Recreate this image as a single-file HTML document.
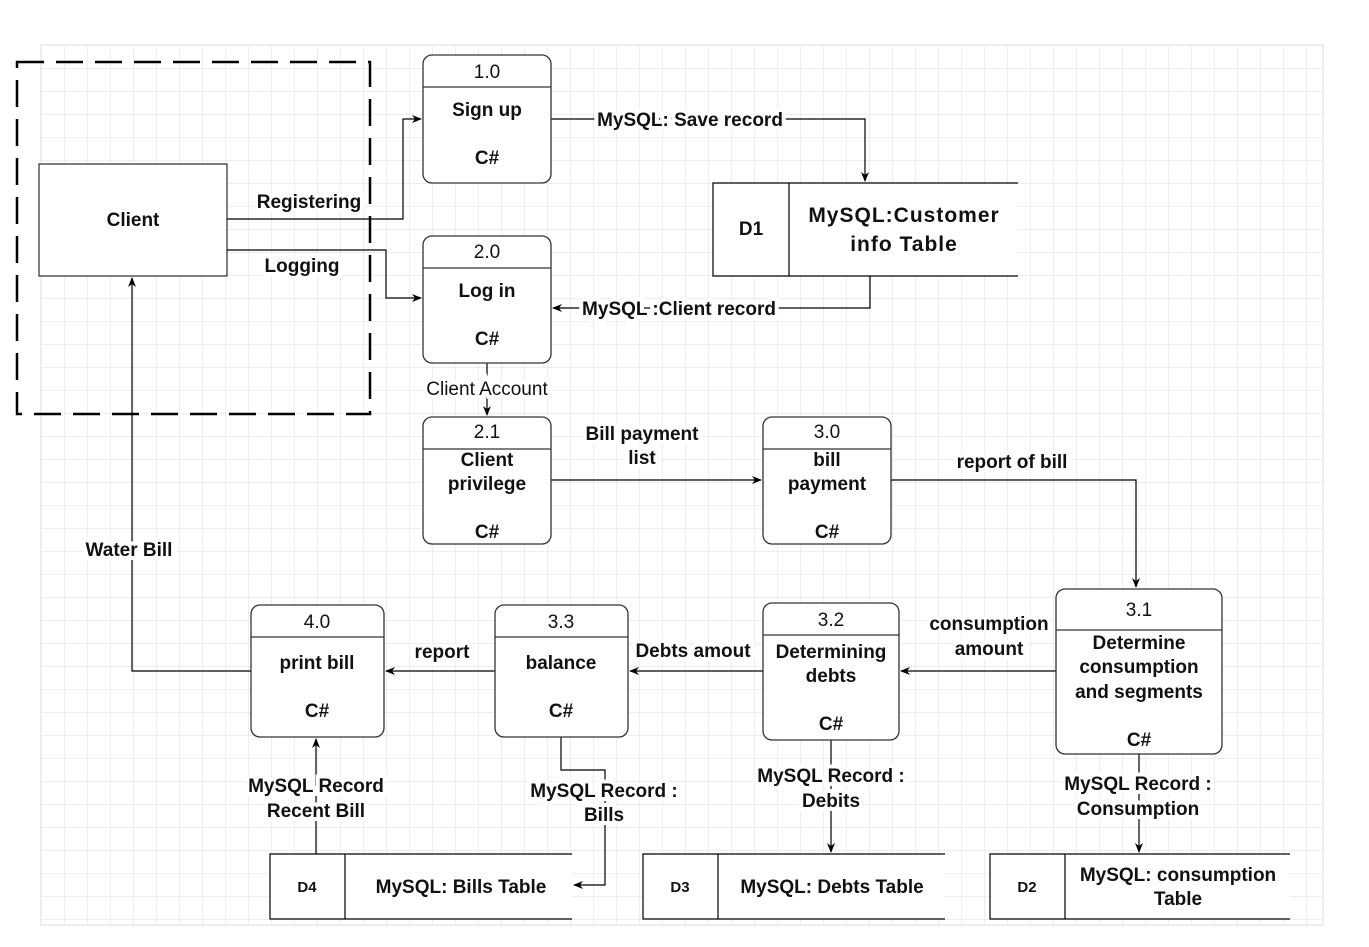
<!DOCTYPE html>
<html><head><meta charset="utf-8"><style>
body{margin:0;background:#fff}
text{font-family:"Liberation Sans",Arial,sans-serif;font-size:19px;fill:#111}
.b{font-weight:bold}
</style></head><body>
<svg width="1369" height="942" viewBox="0 0 1369 942" xmlns="http://www.w3.org/2000/svg">
<defs>
<pattern id="g" x="41" y="45" width="23" height="23" patternUnits="userSpaceOnUse">
<path d="M0 0H23M0 0V23" stroke="#dcdcdc" stroke-width="1" fill="none"/>
</pattern>
<marker id="a" markerWidth="10" markerHeight="10" refX="9" refY="5" orient="auto" markerUnits="userSpaceOnUse">
<path d="M0 1L10 5L0 9L3 5Z" fill="#000"/>
</marker>
</defs>
<rect x="41" y="45" width="1282" height="880" fill="url(#g)" stroke="#dcdcdc"/>
<rect x="17" y="62" width="353" height="352" fill="none" stroke="#000" stroke-width="2.5" stroke-dasharray="27,12"/>
<rect x="39" y="164" width="188" height="112" fill="#fff" stroke="#000"/>
<text x="133" y="226" class="b" text-anchor="middle">Client</text>

<g fill="none" stroke="#000" stroke-width="1.2">
<polyline points="227,219 403,219 403,119 421,119" marker-end="url(#a)"/>
<polyline points="227,250 386,250 386,298 421,298" marker-end="url(#a)"/>
<polyline points="551,119 865,119 865,181" marker-end="url(#a)"/>
<polyline points="870,276 870,308 553,308" marker-end="url(#a)"/>
<polyline points="487,363 487,415" marker-end="url(#a)"/>
<polyline points="551,480 761,480" marker-end="url(#a)"/>
<polyline points="891,480 1136,480 1136,587" marker-end="url(#a)"/>
<polyline points="1056,671 901,671" marker-end="url(#a)"/>
<polyline points="763,671 630,671" marker-end="url(#a)"/>
<polyline points="495,671 386,671" marker-end="url(#a)"/>
<polyline points="251,671 132,671 132,278" marker-end="url(#a)"/>
<polyline points="316,854 316,739" marker-end="url(#a)"/>
<polyline points="561,737 561,770 605,770 605,885 574,885" marker-end="url(#a)"/>
<polyline points="831,740 831,852" marker-end="url(#a)"/>
<polyline points="1139,754 1139,852" marker-end="url(#a)"/>
</g>

<g fill="#fff" stroke="#333" stroke-width="1.3">
<rect x="423" y="55" width="128" height="128" rx="9"/>
<rect x="423" y="236" width="128" height="127" rx="9"/>
<rect x="423" y="417" width="128" height="127" rx="9"/>
<rect x="763" y="417" width="128" height="127" rx="9"/>
<rect x="1056" y="589" width="166" height="165" rx="9"/>
<rect x="763" y="603" width="136" height="137" rx="9"/>
<rect x="495" y="605" width="133" height="132" rx="9"/>
<rect x="251" y="605" width="133" height="132" rx="9"/>
</g>
<g stroke="#333" stroke-width="1.3">
<line x1="423" y1="87" x2="551" y2="87"/>
<line x1="423" y1="268" x2="551" y2="268"/>
<line x1="423" y1="449" x2="551" y2="449"/>
<line x1="763" y1="449" x2="891" y2="449"/>
<line x1="1056" y1="630" x2="1222" y2="630"/>
<line x1="763" y1="635" x2="899" y2="635"/>
<line x1="495" y1="637" x2="628" y2="637"/>
<line x1="251" y1="637" x2="384" y2="637"/>
</g>

<g text-anchor="middle">
<text x="487" y="78">1.0</text><text x="487" y="116" class="b">Sign up</text><text x="487" y="164" class="b">C#</text>
<text x="487" y="258">2.0</text><text x="487" y="297" class="b">Log in</text><text x="487" y="345" class="b">C#</text>
<text x="487" y="438">2.1</text><text x="487" y="466" class="b">Client</text><text x="487" y="490" class="b">privilege</text><text x="487" y="538" class="b">C#</text>
<text x="827" y="438">3.0</text><text x="827" y="466" class="b">bill</text><text x="827" y="490" class="b">payment</text><text x="827" y="538" class="b">C#</text>
<text x="1139" y="616">3.1</text><text x="1139" y="649" class="b">Determine</text><text x="1139" y="673" class="b">consumption</text><text x="1139" y="698" class="b">and segments</text><text x="1139" y="746" class="b">C#</text>
<text x="831" y="626">3.2</text><text x="831" y="658" class="b">Determining</text><text x="831" y="682" class="b">debts</text><text x="831" y="730" class="b">C#</text>
<text x="561" y="628">3.3</text><text x="561" y="669" class="b">balance</text><text x="561" y="717" class="b">C#</text>
<text x="317" y="628">4.0</text><text x="317" y="669" class="b">print bill</text><text x="317" y="717" class="b">C#</text>
</g>

<g fill="#fff" stroke="#000" stroke-width="1.2">
<path d="M1018 183H713V276H1018M789 183V276"/>
<path d="M572 854H270V919H572M345 854V919"/>
<path d="M945 854H643V919H945M718 854V919"/>
<path d="M1290 854H990V919H1290M1065 854V919"/>
</g>
<g text-anchor="middle">
<text x="751" y="235" class="b">D1</text>
<text x="904" y="222" class="b" style="font-size:21px;letter-spacing:1px">MySQL:Customer</text>
<text x="904" y="251" class="b" style="font-size:21px;letter-spacing:1px">info Table</text>
<text x="307" y="892" class="b" style="font-size:15px">D4</text>
<text x="461" y="893" class="b">MySQL: Bills Table</text>
<text x="680" y="892" class="b" style="font-size:15px">D3</text>
<text x="832" y="893" class="b">MySQL: Debts Table</text>
<text x="1027" y="892" class="b" style="font-size:15px">D2</text>
<text x="1178" y="881" class="b">MySQL: consumption</text>
<text x="1178" y="905" class="b">Table</text>
</g>

<g text-anchor="middle" style="paint-order:stroke" stroke="#fff" stroke-width="8">
<text x="309" y="208" class="b">Registering</text>
<text x="302" y="272" class="b">Logging</text>
<text x="690" y="126" class="b">MySQL: Save record</text>
<text x="679" y="315" class="b">MySQL :Client record</text>
<text x="487" y="395" style="font-weight:normal">Client Account</text>
<text x="642" y="440" class="b">Bill payment</text>
<text x="642" y="464" class="b">list</text>
<text x="1012" y="468" class="b">report of bill</text>
<text x="989" y="630" class="b">consumption</text>
<text x="989" y="655" class="b">amount</text>
<text x="693" y="657" class="b">Debts amout</text>
<text x="442" y="658" class="b">report</text>
<text x="129" y="556" class="b">Water Bill</text>
<text x="316" y="792" class="b">MySQL Record</text>
<text x="316" y="817" class="b">Recent Bill</text>
<text x="604" y="797" class="b">MySQL Record :</text>
<text x="604" y="821" class="b">Bills</text>
<text x="831" y="782" class="b">MySQL Record :</text>
<text x="831" y="807" class="b">Debits</text>
<text x="1138" y="790" class="b">MySQL Record :</text>
<text x="1138" y="815" class="b">Consumption</text>
</g>
</svg>
</body></html>
